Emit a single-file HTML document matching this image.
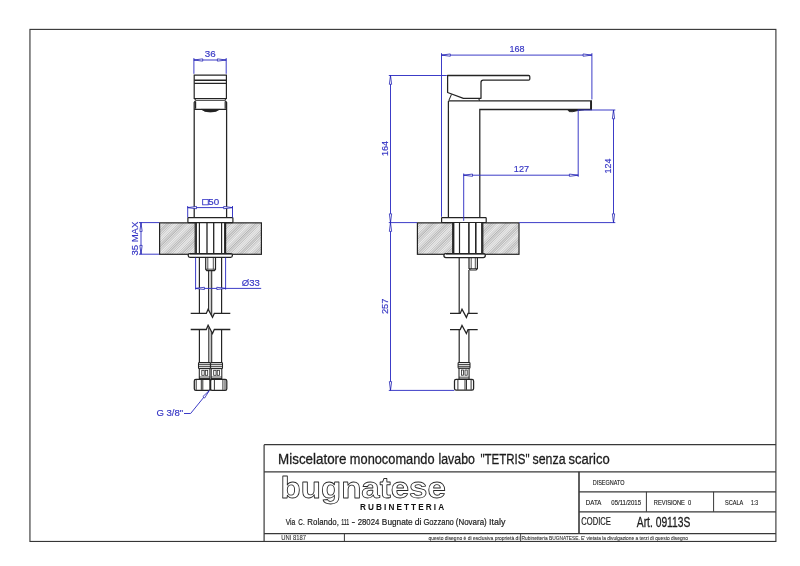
<!DOCTYPE html>
<html lang="it">
<head>
<meta charset="utf-8">
<title>Miscelatore monocomando lavabo TETRIS - Art. 09113S</title>
<style>
html,body{margin:0;padding:0;background:#fff;}
body{width:800px;height:566px;overflow:hidden;}
svg{display:block;font-family:"Liberation Sans",sans-serif;will-change:transform;}
</style>
</head>
<body>
<svg width="800" height="566" viewBox="0 0 800 566">
<rect width="800" height="566" fill="#fff"/>
<rect x="29.95" y="29.4" width="745.95" height="512.05" fill="none" stroke="#363636" stroke-width="1.12"/>
<defs>
<pattern id="h0" width="1.7" height="1.7" patternUnits="userSpaceOnUse" patternTransform="rotate(-45)">
<rect width="1.7" height="1.7" fill="#e6e6e6"/>
<rect y="0" width="1.7" height="0.6" fill="#adadad"/>
</pattern>
<pattern id="h1" width="10.4" height="10.4" patternUnits="userSpaceOnUse" patternTransform="rotate(-45)">
<rect y="0" width="10.4" height="3.2" fill="#fff" fill-opacity="0.3"/>
<rect y="5.6" width="10.4" height="1.6" fill="#000" fill-opacity="0.07"/>
</pattern>
</defs>
<rect x="159.60" y="222.85" width="35.60" height="31.45" rx="0" stroke="none" stroke-width="0" fill="url(#h0)"/>
<rect x="159.60" y="222.85" width="35.60" height="31.45" rx="0" stroke="#242424" stroke-width="1.188" fill="url(#h1)"/>
<rect x="225.60" y="222.85" width="35.80" height="31.45" rx="0" stroke="none" stroke-width="0" fill="url(#h0)"/>
<rect x="225.60" y="222.85" width="35.80" height="31.45" rx="0" stroke="#242424" stroke-width="1.188" fill="url(#h1)"/>
<path d="M194.2,75.2 H226.4 V98.5 H194.2 Z" stroke="#242424" stroke-width="1.188" fill="#fff" />
<line x1="194.20" y1="80.30" x2="226.40" y2="80.30" stroke="#242424" stroke-width="1.584" />
<line x1="194.20" y1="83.40" x2="226.40" y2="83.40" stroke="#242424" stroke-width="1.056" />
<path d="M194.2,98.5 L196.0,100.3 H224.6 L226.4,98.5" stroke="#242424" stroke-width="1.056" fill="none" />
<path d="M194.2,218.0 V102.4 L195.6,100.6 M225.2,100.6 L226.6,102.4 V218.0" stroke="#242424" stroke-width="1.254" fill="none" />
<path d="M195.6,101.5 V108.8 M225.2,101.5 V108.8" stroke="#242424" stroke-width="1.188" fill="none" />
<line x1="194.20" y1="109.40" x2="226.60" y2="109.40" stroke="#242424" stroke-width="1.056" />
<path d="M201.6,109.4 Q204,111.9 210.4,112.0 Q216.8,111.9 219.4,109.4 Z" stroke="#242424" stroke-width="0.792" fill="#222" />
<rect x="187.90" y="217.70" width="45.00" height="4.90" rx="0.6" stroke="#242424" stroke-width="1.188" fill="#fff"/>
<line x1="196.20" y1="222.60" x2="196.20" y2="254.00" stroke="#242424" stroke-width="1.452" />
<line x1="199.40" y1="222.60" x2="199.40" y2="254.00" stroke="#242424" stroke-width="1.188" />
<line x1="207.00" y1="222.60" x2="207.00" y2="254.00" stroke="#242424" stroke-width="1.32" />
<line x1="213.70" y1="222.60" x2="213.70" y2="254.00" stroke="#242424" stroke-width="1.32" />
<line x1="221.60" y1="222.60" x2="221.60" y2="254.00" stroke="#242424" stroke-width="1.188" />
<line x1="224.80" y1="222.60" x2="224.80" y2="254.00" stroke="#242424" stroke-width="1.452" />
<rect x="188.20" y="253.70" width="44.20" height="3.60" rx="1.8" stroke="#242424" stroke-width="1.254" fill="#fff"/>
<line x1="190.00" y1="254.00" x2="231.00" y2="254.00" stroke="#242424" stroke-width="1.056" />
<path d="M205.7,257.3 V269.2 L206.8,270.6 H214.4 L215.5,269.2 V257.3" stroke="#242424" stroke-width="1.188" fill="none" />
<path d="M207.8,257.3 V269.5 M213.3,257.3 V269.5 M205.7,269.2 H215.5" stroke="#242424" stroke-width="0.792" fill="none" />
<line x1="199.40" y1="257.30" x2="199.40" y2="313.40" stroke="#242424" stroke-width="1.188" />
<line x1="221.60" y1="257.30" x2="221.60" y2="313.40" stroke="#242424" stroke-width="1.188" />
<line x1="208.60" y1="270.60" x2="208.60" y2="310.50" stroke="#242424" stroke-width="1.056" />
<line x1="211.70" y1="270.60" x2="211.70" y2="316.00" stroke="#242424" stroke-width="1.056" />
<line x1="210.20" y1="270.60" x2="210.20" y2="313.00" stroke="#666" stroke-width="0.5" />
<path d="M190.7,313.4 H206.3 L208.1,309.2 L212.5,317.4 L214.3,313.4 H230.3" stroke="#242424" stroke-width="1.254" fill="none" stroke-linejoin="miter"/>
<path d="M190.7,329.5 H206.3 L208.1,325.3 L212.5,333.5 L214.3,329.5 H230.3" stroke="#242424" stroke-width="1.254" fill="none" stroke-linejoin="miter"/>
<line x1="199.40" y1="329.50" x2="199.40" y2="362.60" stroke="#242424" stroke-width="1.188" />
<line x1="221.60" y1="329.50" x2="221.60" y2="362.60" stroke="#242424" stroke-width="1.188" />
<line x1="208.80" y1="327.50" x2="208.80" y2="362.60" stroke="#242424" stroke-width="1.056" />
<line x1="211.70" y1="332.50" x2="211.70" y2="362.60" stroke="#242424" stroke-width="1.056" />
<line x1="210.30" y1="331.00" x2="210.30" y2="362.60" stroke="#666" stroke-width="0.5" />
<rect x="198.50" y="362.60" width="11.90" height="6.00" rx="0.8" stroke="#242424" stroke-width="1.056" fill="#fff"/>
<line x1="198.50" y1="364.70" x2="210.40" y2="364.70" stroke="#242424" stroke-width="0.924" />
<line x1="198.50" y1="366.70" x2="210.40" y2="366.70" stroke="#242424" stroke-width="0.924" />
<rect x="210.60" y="362.60" width="11.90" height="6.00" rx="0.8" stroke="#242424" stroke-width="1.056" fill="#fff"/>
<line x1="210.60" y1="364.70" x2="222.50" y2="364.70" stroke="#242424" stroke-width="0.924" />
<line x1="210.60" y1="366.70" x2="222.50" y2="366.70" stroke="#242424" stroke-width="0.924" />
<rect x="199.30" y="368.60" width="10.60" height="10.00" rx="0" stroke="#242424" stroke-width="1.056" fill="#fff"/>
<rect x="201.80" y="370.30" width="2.40" height="5.00" rx="0" stroke="#242424" stroke-width="0.792" fill="none"/>
<rect x="205.30" y="370.30" width="2.40" height="5.00" rx="0" stroke="#242424" stroke-width="0.792" fill="none"/>
<line x1="199.30" y1="377.00" x2="209.90" y2="377.00" stroke="#242424" stroke-width="0.792" />
<rect x="211.20" y="368.60" width="10.60" height="10.00" rx="0" stroke="#242424" stroke-width="1.056" fill="#fff"/>
<rect x="213.70" y="370.30" width="2.40" height="5.00" rx="0" stroke="#242424" stroke-width="0.792" fill="none"/>
<rect x="217.20" y="370.30" width="2.40" height="5.00" rx="0" stroke="#242424" stroke-width="0.792" fill="none"/>
<line x1="211.20" y1="377.00" x2="221.80" y2="377.00" stroke="#242424" stroke-width="0.792" />
<rect x="194.30" y="379.30" width="16.10" height="11.00" rx="1.6" stroke="#242424" stroke-width="1.254" fill="#fff"/>
<rect x="210.40" y="379.30" width="16.40" height="11.00" rx="1.6" stroke="#242424" stroke-width="1.254" fill="#fff"/>
<line x1="196.20" y1="379.80" x2="196.20" y2="389.90" stroke="#242424" stroke-width="0.924" />
<line x1="201.30" y1="379.80" x2="201.30" y2="389.90" stroke="#242424" stroke-width="0.924" />
<line x1="202.80" y1="379.80" x2="202.80" y2="389.90" stroke="#242424" stroke-width="0.924" />
<line x1="214.40" y1="379.80" x2="214.40" y2="389.90" stroke="#242424" stroke-width="0.924" />
<line x1="222.90" y1="379.80" x2="222.90" y2="389.90" stroke="#242424" stroke-width="0.924" />
<line x1="225.00" y1="379.80" x2="225.00" y2="389.90" stroke="#242424" stroke-width="0.924" />
<line x1="210.40" y1="379.30" x2="210.40" y2="390.30" stroke="#242424" stroke-width="1.716" />
<line x1="193.90" y1="58.10" x2="193.90" y2="73.80" stroke="#3232c4" stroke-width="0.95" />
<line x1="226.20" y1="58.10" x2="226.20" y2="73.80" stroke="#3232c4" stroke-width="0.95" />
<line x1="193.90" y1="60.00" x2="226.20" y2="60.00" stroke="#3232c4" stroke-width="0.95" />
<path d="M193.90,60.00 L202.70,61.15 L202.70,58.85 Z" stroke="#2424b4" stroke-width="0.8" fill="#fff" stroke-linejoin="round"/>
<path d="M226.20,60.00 L217.40,58.85 L217.40,61.15 Z" stroke="#2424b4" stroke-width="0.8" fill="#fff" stroke-linejoin="round"/>
<text x="210.30" y="56.90" font-size="9.8" fill="#3434c4" text-anchor="middle" stroke="#3434c4" stroke-width="0.16" >36</text>
<line x1="187.70" y1="206.00" x2="187.70" y2="217.60" stroke="#3232c4" stroke-width="0.95" />
<line x1="232.50" y1="206.00" x2="232.50" y2="217.60" stroke="#3232c4" stroke-width="0.95" />
<line x1="187.70" y1="207.60" x2="232.50" y2="207.60" stroke="#3232c4" stroke-width="0.95" />
<path d="M187.70,207.60 L196.50,208.75 L196.50,206.45 Z" stroke="#2424b4" stroke-width="0.8" fill="#fff" stroke-linejoin="round"/>
<path d="M232.50,207.60 L223.70,206.45 L223.70,208.75 Z" stroke="#2424b4" stroke-width="0.8" fill="#fff" stroke-linejoin="round"/>
<text x="210.80" y="205.00" font-size="9.8" fill="#3434c4" text-anchor="middle" stroke="#3434c4" stroke-width="0.16" ><tspan stroke="#3a3ac8" stroke-width="0.45">□</tspan>50</text>
<line x1="139.00" y1="222.60" x2="159.20" y2="222.60" stroke="#3232c4" stroke-width="0.95" />
<line x1="139.00" y1="254.20" x2="159.20" y2="254.20" stroke="#3232c4" stroke-width="0.95" />
<line x1="141.00" y1="222.60" x2="141.00" y2="254.20" stroke="#3232c4" stroke-width="0.95" />
<path d="M141.00,222.60 L139.85,231.40 L142.15,231.40 Z" stroke="#2424b4" stroke-width="0.8" fill="#fff" stroke-linejoin="round"/>
<path d="M141.00,254.20 L142.15,245.40 L139.85,245.40 Z" stroke="#2424b4" stroke-width="0.8" fill="#fff" stroke-linejoin="round"/>
<text x="138.30" y="238.60" font-size="9.8" fill="#3434c4" text-anchor="middle" stroke="#3434c4" stroke-width="0.16" transform="rotate(-90 138.30 238.60)" textLength="33.90" lengthAdjust="spacingAndGlyphs" >35 MAX</text>
<line x1="195.60" y1="257.60" x2="195.60" y2="289.60" stroke="#3232c4" stroke-width="0.95" />
<line x1="225.60" y1="257.60" x2="225.60" y2="289.60" stroke="#3232c4" stroke-width="0.95" />
<line x1="195.60" y1="288.40" x2="261.20" y2="288.40" stroke="#3232c4" stroke-width="0.95" />
<path d="M195.60,288.40 L204.40,289.55 L204.40,287.25 Z" stroke="#2424b4" stroke-width="0.8" fill="#fff" stroke-linejoin="round"/>
<path d="M225.60,288.40 L216.80,287.25 L216.80,289.55 Z" stroke="#2424b4" stroke-width="0.8" fill="#fff" stroke-linejoin="round"/>
<text x="250.80" y="285.60" font-size="9.8" fill="#3434c4" text-anchor="middle" stroke="#3434c4" stroke-width="0.16" textLength="18.10" lengthAdjust="spacingAndGlyphs" >Ø33</text>
<path d="M209.3,390.5 L190.6,413.5 H184.0" stroke="#3232c4" stroke-width="0.95" fill="none" />
<path d="M209.30,390.50 L202.86,396.60 L204.64,398.05 Z" stroke="#2424b4" stroke-width="0.8" fill="#fff" stroke-linejoin="round"/>
<text x="156.40" y="416.30" font-size="9.8" fill="#3434c4" text-anchor="start" stroke="#3434c4" stroke-width="0.16" textLength="26.90" lengthAdjust="spacingAndGlyphs" >G 3/8"</text>
<rect x="417.40" y="222.85" width="35.30" height="31.45" rx="0" stroke="none" stroke-width="0" fill="url(#h0)"/>
<rect x="417.40" y="222.85" width="35.30" height="31.45" rx="0" stroke="#242424" stroke-width="1.188" fill="url(#h1)"/>
<rect x="482.80" y="222.85" width="36.20" height="31.45" rx="0" stroke="none" stroke-width="0" fill="url(#h0)"/>
<rect x="482.80" y="222.85" width="36.20" height="31.45" rx="0" stroke="#242424" stroke-width="1.188" fill="url(#h1)"/>
<path d="M447.6,75.5 H528.6 Q529.8,75.5 529.8,76.7 V79.0 Q529.8,80.2 528.6,80.2 H483.2 Q481.0,80.2 481.0,82.4 V98.3 H463.4 L447.6,92.5 Z" stroke="#242424" stroke-width="1.254" fill="#fff" stroke-linejoin="round"/>
<line x1="451.50" y1="94.40" x2="448.90" y2="100.40" stroke="#242424" stroke-width="1.056" />
<line x1="478.60" y1="98.30" x2="479.60" y2="100.80" stroke="#242424" stroke-width="1.056" />
<path d="M448.4,217.8 V101.6 L449.2,100.8 H591.4 V109.5 H479.8 V217.8" stroke="#242424" stroke-width="1.254" fill="none" />
<line x1="591.00" y1="101.00" x2="591.00" y2="109.40" stroke="#242424" stroke-width="1.848" />
<path d="M567.6,109.5 L569.2,111.6 L572.5,111.7 Q578,110.3 584.0,109.6 Z" stroke="#242424" stroke-width="0.924" fill="#222" />
<rect x="441.60" y="217.70" width="44.60" height="4.80" rx="0.6" stroke="#242424" stroke-width="1.188" fill="#fff"/>
<line x1="453.60" y1="222.60" x2="453.60" y2="254.00" stroke="#242424" stroke-width="1.584" />
<line x1="459.50" y1="222.60" x2="459.50" y2="254.00" stroke="#242424" stroke-width="1.188" />
<line x1="468.90" y1="222.60" x2="468.90" y2="254.00" stroke="#242424" stroke-width="1.584" />
<line x1="475.80" y1="222.60" x2="475.80" y2="254.00" stroke="#242424" stroke-width="1.584" />
<line x1="481.90" y1="222.60" x2="481.90" y2="254.00" stroke="#242424" stroke-width="1.584" />
<rect x="443.90" y="253.60" width="41.40" height="4.00" rx="2.0" stroke="#242424" stroke-width="1.254" fill="#fff"/>
<line x1="446.00" y1="254.00" x2="484.50" y2="254.00" stroke="#242424" stroke-width="1.056" />
<path d="M469.0,257.6 V268.6 L470.2,270.0 H476.2 L477.4,268.6 V257.6" stroke="#242424" stroke-width="1.188" fill="none" />
<path d="M471.2,257.6 V269 M475.3,257.6 V269 M469,268.6 H477.4" stroke="#242424" stroke-width="0.792" fill="none" />
<line x1="459.20" y1="257.60" x2="459.20" y2="313.40" stroke="#242424" stroke-width="1.188" />
<line x1="468.90" y1="270.00" x2="468.90" y2="313.40" stroke="#242424" stroke-width="1.188" />
<path d="M450.0,313.4 H460.2 L462.0,309.2 L466.4,317.4 L468.0,313.4 H477.7" stroke="#242424" stroke-width="1.254" fill="none" />
<path d="M450.0,329.6 H460.2 L462.0,325.40000000000003 L466.4,333.6 L468.0,329.6 H477.7" stroke="#242424" stroke-width="1.254" fill="none" />
<line x1="459.20" y1="329.60" x2="459.20" y2="362.50" stroke="#242424" stroke-width="1.188" />
<line x1="468.90" y1="329.60" x2="468.90" y2="362.50" stroke="#242424" stroke-width="1.188" />
<rect x="458.10" y="362.50" width="11.90" height="5.80" rx="0.8" stroke="#242424" stroke-width="1.056" fill="#fff"/>
<line x1="458.10" y1="364.40" x2="470.00" y2="364.40" stroke="#242424" stroke-width="0.924" />
<line x1="458.10" y1="366.30" x2="470.00" y2="366.30" stroke="#242424" stroke-width="0.924" />
<rect x="459.00" y="368.30" width="10.10" height="10.80" rx="0" stroke="#242424" stroke-width="1.056" fill="#fff"/>
<rect x="461.40" y="370.00" width="2.20" height="5.20" rx="0" stroke="#242424" stroke-width="0.792" fill="none"/>
<rect x="465.00" y="370.00" width="2.20" height="5.20" rx="0" stroke="#242424" stroke-width="0.792" fill="none"/>
<line x1="459.00" y1="377.20" x2="469.10" y2="377.20" stroke="#242424" stroke-width="0.792" />
<rect x="454.50" y="379.40" width="19.10" height="10.80" rx="1.6" stroke="#242424" stroke-width="1.254" fill="#fff"/>
<line x1="457.90" y1="379.90" x2="457.90" y2="389.80" stroke="#242424" stroke-width="0.924" />
<line x1="465.00" y1="379.90" x2="465.00" y2="389.80" stroke="#242424" stroke-width="0.924" />
<line x1="466.50" y1="379.90" x2="466.50" y2="389.80" stroke="#242424" stroke-width="0.924" />
<line x1="471.10" y1="379.90" x2="471.10" y2="389.80" stroke="#242424" stroke-width="0.924" />
<line x1="441.50" y1="53.20" x2="441.50" y2="216.80" stroke="#3232c4" stroke-width="0.95" />
<line x1="591.90" y1="53.20" x2="591.90" y2="99.40" stroke="#3232c4" stroke-width="0.95" />
<line x1="441.50" y1="55.10" x2="591.90" y2="55.10" stroke="#3232c4" stroke-width="0.95" />
<path d="M441.50,55.10 L450.30,56.25 L450.30,53.95 Z" stroke="#2424b4" stroke-width="0.8" fill="#fff" stroke-linejoin="round"/>
<path d="M591.90,55.10 L583.10,53.95 L583.10,56.25 Z" stroke="#2424b4" stroke-width="0.8" fill="#fff" stroke-linejoin="round"/>
<text x="517.00" y="51.80" font-size="9.8" fill="#3434c4" text-anchor="middle" stroke="#3434c4" stroke-width="0.16" textLength="15.10" lengthAdjust="spacingAndGlyphs" >168</text>
<line x1="388.80" y1="75.50" x2="446.80" y2="75.50" stroke="#3232c4" stroke-width="0.95" />
<line x1="388.80" y1="222.60" x2="417.20" y2="222.60" stroke="#3232c4" stroke-width="0.95" />
<line x1="388.80" y1="390.40" x2="454.20" y2="390.40" stroke="#3232c4" stroke-width="0.95" />
<line x1="390.50" y1="75.50" x2="390.50" y2="390.40" stroke="#3232c4" stroke-width="0.95" />
<path d="M390.50,75.50 L389.35,84.30 L391.65,84.30 Z" stroke="#2424b4" stroke-width="0.8" fill="#fff" stroke-linejoin="round"/>
<path d="M390.50,222.60 L391.65,213.80 L389.35,213.80 Z" stroke="#2424b4" stroke-width="0.8" fill="#fff" stroke-linejoin="round"/>
<path d="M390.50,222.60 L389.35,231.40 L391.65,231.40 Z" stroke="#2424b4" stroke-width="0.8" fill="#fff" stroke-linejoin="round"/>
<path d="M390.50,390.40 L391.65,381.60 L389.35,381.60 Z" stroke="#2424b4" stroke-width="0.8" fill="#fff" stroke-linejoin="round"/>
<text x="387.60" y="148.50" font-size="9.8" fill="#3434c4" text-anchor="middle" stroke="#3434c4" stroke-width="0.16" transform="rotate(-90 387.60 148.50)" textLength="15.20" lengthAdjust="spacingAndGlyphs" >164</text>
<text x="387.80" y="306.30" font-size="9.8" fill="#3434c4" text-anchor="middle" stroke="#3434c4" stroke-width="0.16" transform="rotate(-90 387.80 306.30)" textLength="15.50" lengthAdjust="spacingAndGlyphs" >257</text>
<line x1="463.70" y1="173.50" x2="463.70" y2="220.80" stroke="#3232c4" stroke-width="0.95" />
<line x1="578.20" y1="110.00" x2="578.20" y2="176.80" stroke="#3232c4" stroke-width="0.95" />
<line x1="463.70" y1="175.20" x2="578.20" y2="175.20" stroke="#3232c4" stroke-width="0.95" />
<path d="M463.70,175.20 L472.50,176.35 L472.50,174.05 Z" stroke="#2424b4" stroke-width="0.8" fill="#fff" stroke-linejoin="round"/>
<path d="M578.20,175.20 L569.40,174.05 L569.40,176.35 Z" stroke="#2424b4" stroke-width="0.8" fill="#fff" stroke-linejoin="round"/>
<text x="521.50" y="172.15" font-size="9.8" fill="#3434c4" text-anchor="middle" stroke="#3434c4" stroke-width="0.16" textLength="15.30" lengthAdjust="spacingAndGlyphs" >127</text>
<line x1="577.60" y1="110.00" x2="615.30" y2="110.00" stroke="#3232c4" stroke-width="0.95" />
<line x1="519.20" y1="222.60" x2="615.30" y2="222.60" stroke="#3232c4" stroke-width="0.95" />
<line x1="613.50" y1="110.00" x2="613.50" y2="222.60" stroke="#3232c4" stroke-width="0.95" />
<path d="M613.50,110.00 L612.35,118.80 L614.65,118.80 Z" stroke="#2424b4" stroke-width="0.8" fill="#fff" stroke-linejoin="round"/>
<path d="M613.50,222.60 L614.65,213.80 L612.35,213.80 Z" stroke="#2424b4" stroke-width="0.8" fill="#fff" stroke-linejoin="round"/>
<text x="610.70" y="166.00" font-size="9.8" fill="#3434c4" text-anchor="middle" stroke="#3434c4" stroke-width="0.16" transform="rotate(-90 610.70 166.00)" textLength="15.00" lengthAdjust="spacingAndGlyphs" >124</text>
<line x1="264.10" y1="444.70" x2="775.90" y2="444.70" stroke="#383838" stroke-width="1.2" />
<line x1="264.10" y1="444.70" x2="264.10" y2="541.45" stroke="#383838" stroke-width="1.2" />
<line x1="264.10" y1="471.80" x2="775.90" y2="471.80" stroke="#383838" stroke-width="1.2" />
<line x1="264.10" y1="533.60" x2="775.90" y2="533.60" stroke="#383838" stroke-width="1.2" />
<line x1="579.00" y1="471.80" x2="579.00" y2="533.60" stroke="#383838" stroke-width="1.6" />
<line x1="579.00" y1="491.80" x2="775.90" y2="491.80" stroke="#383838" stroke-width="1.2" />
<line x1="579.00" y1="511.80" x2="775.90" y2="511.80" stroke="#383838" stroke-width="1.2" />
<line x1="646.40" y1="491.80" x2="646.40" y2="511.80" stroke="#383838" stroke-width="1.0" />
<line x1="713.60" y1="491.80" x2="713.60" y2="511.80" stroke="#383838" stroke-width="1.0" />
<line x1="344.40" y1="533.60" x2="344.40" y2="541.45" stroke="#383838" stroke-width="1.0" />
<line x1="520.60" y1="533.60" x2="520.60" y2="541.45" stroke="#383838" stroke-width="0.9" />
<text x="278.07" y="464.00" font-size="15.2" fill="#1c1c1c" text-anchor="start" textLength="68.46" lengthAdjust="spacingAndGlyphs" stroke="#1c1c1c" stroke-width="0.3">Miscelatore</text>
<text x="349.87" y="464.00" font-size="15.2" fill="#1c1c1c" text-anchor="start" textLength="84.66" lengthAdjust="spacingAndGlyphs" stroke="#1c1c1c" stroke-width="0.3">monocomando</text>
<text x="438.47" y="464.00" font-size="15.2" fill="#1c1c1c" text-anchor="start" textLength="36.46" lengthAdjust="spacingAndGlyphs" stroke="#1c1c1c" stroke-width="0.3">lavabo</text>
<text x="480.47" y="464.00" font-size="15.2" fill="#1c1c1c" text-anchor="start" textLength="49.06" lengthAdjust="spacingAndGlyphs" stroke="#1c1c1c" stroke-width="0.3">"TETRIS"</text>
<text x="532.47" y="464.00" font-size="15.2" fill="#1c1c1c" text-anchor="start" textLength="33.06" lengthAdjust="spacingAndGlyphs" stroke="#1c1c1c" stroke-width="0.3">senza</text>
<text x="568.47" y="464.00" font-size="15.2" fill="#1c1c1c" text-anchor="start" textLength="41.26" lengthAdjust="spacingAndGlyphs" stroke="#1c1c1c" stroke-width="0.3">scarico</text>
<text x="280.6" y="498.3" font-size="30" font-weight="bold" text-anchor="start" textLength="165.2" lengthAdjust="spacingAndGlyphs" fill="#fff" stroke="#2a2a2a" stroke-width="0.8" stroke-linejoin="round">bugnatese</text>
<text x="360.00" y="509.60" font-size="8.2" fill="#111" text-anchor="start" font-weight="bold" letter-spacing="2.1" >RUBINETTERIA</text>
<text x="285.67" y="524.70" font-size="9.4" fill="#1c1c1c" text-anchor="start" textLength="9.66" lengthAdjust="spacingAndGlyphs" stroke="#1c1c1c" stroke-width="0.2">Via</text>
<text x="298.37" y="524.70" font-size="9.4" fill="#1c1c1c" text-anchor="start" textLength="6.26" lengthAdjust="spacingAndGlyphs" stroke="#1c1c1c" stroke-width="0.2">C.</text>
<text x="307.37" y="524.70" font-size="9.4" fill="#1c1c1c" text-anchor="start" textLength="31.46" lengthAdjust="spacingAndGlyphs" stroke="#1c1c1c" stroke-width="0.2">Rolando,</text>
<text x="341.17" y="524.70" font-size="9.4" fill="#1c1c1c" text-anchor="start" textLength="8.16" lengthAdjust="spacingAndGlyphs" stroke="#1c1c1c" stroke-width="0.2">111</text>
<text x="351.57" y="524.70" font-size="9.4" fill="#1c1c1c" text-anchor="start" textLength="3.66" lengthAdjust="spacingAndGlyphs" stroke="#1c1c1c" stroke-width="0.2">-</text>
<text x="357.67" y="524.70" font-size="9.4" fill="#1c1c1c" text-anchor="start" textLength="21.66" lengthAdjust="spacingAndGlyphs" stroke="#1c1c1c" stroke-width="0.2">28024</text>
<text x="381.87" y="524.70" font-size="9.4" fill="#1c1c1c" text-anchor="start" textLength="30.86" lengthAdjust="spacingAndGlyphs" stroke="#1c1c1c" stroke-width="0.2">Bugnate</text>
<text x="414.67" y="524.70" font-size="9.4" fill="#1c1c1c" text-anchor="start" textLength="6.76" lengthAdjust="spacingAndGlyphs" stroke="#1c1c1c" stroke-width="0.2">di</text>
<text x="423.47" y="524.70" font-size="9.4" fill="#1c1c1c" text-anchor="start" textLength="30.36" lengthAdjust="spacingAndGlyphs" stroke="#1c1c1c" stroke-width="0.2">Gozzano</text>
<text x="455.77" y="524.70" font-size="9.4" fill="#1c1c1c" text-anchor="start" textLength="30.96" lengthAdjust="spacingAndGlyphs" stroke="#1c1c1c" stroke-width="0.2">(Novara)</text>
<text x="489.07" y="524.70" font-size="9.4" fill="#1c1c1c" text-anchor="start" textLength="16.36" lengthAdjust="spacingAndGlyphs" stroke="#1c1c1c" stroke-width="0.2">Italy</text>
<text x="281.20" y="540.00" font-size="7.2" fill="#333" text-anchor="start" textLength="24.80" lengthAdjust="spacingAndGlyphs" stroke="#333" stroke-width="0.1">UNI 8187</text>
<text x="428.51" y="539.50" font-size="5.4" fill="#333" text-anchor="start" textLength="90.98" lengthAdjust="spacingAndGlyphs" stroke="#333" stroke-width="0.1">questo disegno è di esclusiva proprietà di</text>
<text x="521.51" y="539.50" font-size="5.4" fill="#333" text-anchor="start" textLength="166.48" lengthAdjust="spacingAndGlyphs" stroke="#333" stroke-width="0.1">Rubinetteria BUGNATESE. E' vietata la divulgazione a terzi di questo disegno</text>
<text x="592.70" y="484.80" font-size="7.8" fill="#1c1c1c" text-anchor="start" textLength="31.80" lengthAdjust="spacingAndGlyphs" stroke="#1c1c1c" stroke-width="0.15">DISEGNATO</text>
<text x="585.80" y="504.80" font-size="7.9" fill="#1c1c1c" text-anchor="start" textLength="15.50" lengthAdjust="spacingAndGlyphs" stroke="#1c1c1c" stroke-width="0.15">DATA</text>
<text x="611.30" y="504.80" font-size="7.9" fill="#1c1c1c" text-anchor="start" textLength="29.70" lengthAdjust="spacingAndGlyphs" stroke="#1c1c1c" stroke-width="0.15">05/11/2015</text>
<text x="653.80" y="504.80" font-size="7.9" fill="#1c1c1c" text-anchor="start" textLength="37.50" lengthAdjust="spacingAndGlyphs" stroke="#1c1c1c" stroke-width="0.15">REVISIONE&#160;&#160;0</text>
<text x="725.00" y="504.80" font-size="7.9" fill="#1c1c1c" text-anchor="start" textLength="18.30" lengthAdjust="spacingAndGlyphs" stroke="#1c1c1c" stroke-width="0.15">SCALA</text>
<text x="751.00" y="504.80" font-size="7.9" fill="#1c1c1c" text-anchor="start" textLength="7.00" lengthAdjust="spacingAndGlyphs" stroke="#1c1c1c" stroke-width="0.15">1:3</text>
<text x="581.30" y="525.30" font-size="11.1" fill="#1c1c1c" text-anchor="start" textLength="29.60" lengthAdjust="spacingAndGlyphs" stroke="#1c1c1c" stroke-width="0.2">CODICE</text>
<text x="636.80" y="527.40" font-size="14.4" fill="#1c1c1c" text-anchor="start" textLength="53.60" lengthAdjust="spacingAndGlyphs" stroke="#1c1c1c" stroke-width="0.3">Art. 09113S</text>
</svg>
</body>
</html>
